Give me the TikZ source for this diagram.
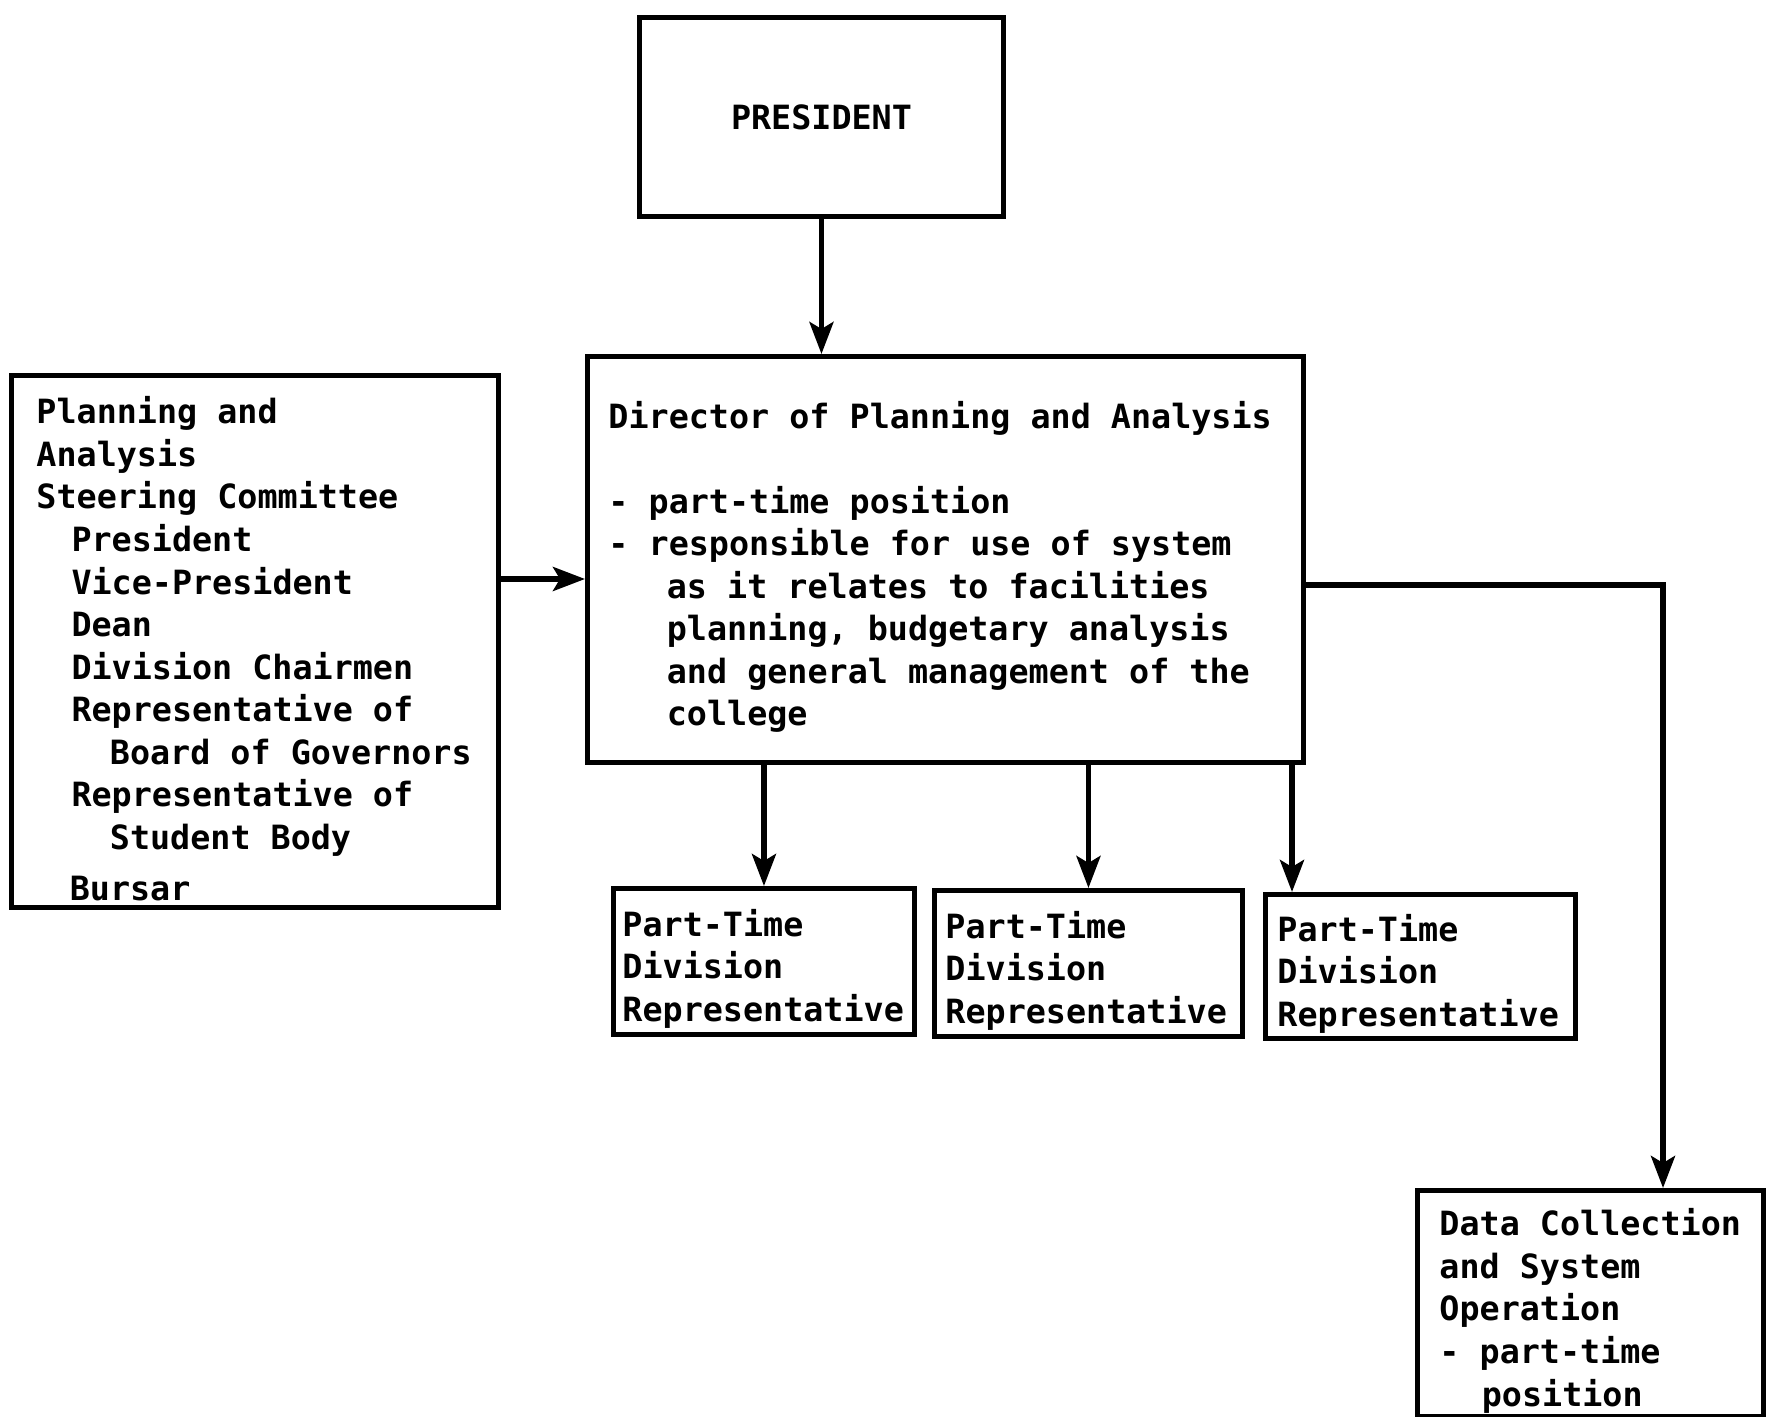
\documentclass[tikz,border=0pt]{standalone}
\usepackage{fontspec}
\setmonofont{DejaVu Sans Mono}
\usepackage{tikz}
\usetikzlibrary{arrows.meta}
\newcommand{\ind}[1]{\hspace*{#1em}}
\tikzset{
  chartbox/.style={draw, line width=1.4pt, anchor=north west, align=left,
    inner ysep=0pt, font={\ttfamily\bfseries\fontsize{9.5}{12.1}\selectfont}},
  listbox/.style={chartbox,
    execute at begin node={\spaceskip=0.602em\xspaceskip=0.602em\rule{0pt}{4.2mm}}},
  link/.style={line width=1.5pt, -{Stealth[length=3.2mm,width=2.4mm,inset=0.7mm]}},
}

\begin{document}
\begin{tikzpicture}[x=0.1mm,y=-0.1mm]
  \useasboundingbox (0,0) rectangle (1774,1417);
  % boxes
  \node[chartbox, align=center, text width=34.4mm, inner xsep=1mm, minimum height=19.9mm] (pres) at (637,15) {PRESIDENT};
  \node[listbox, text width=43.7mm, inner xsep=2.5mm, minimum height=53.2mm] (steer) at (9,373)
    {Planning and\\Analysis\\Steering Committee\\
     \ind{1.05}President\\\ind{1.05}Vice-President\\\ind{1.05}Dean\\\ind{1.05}Division Chairmen\\
     \ind{1.05}Representative of\\\ind{2.2}Board of Governors\\
     \ind{1.05}Representative of\\\ind{2.2}Student Body\\[2.5pt]
     \ind{1}Bursar};
  \node[listbox, text width=67.4mm, inner xsep=2.1mm, minimum height=40.6mm] (dir) at (585,354)
    {Director of Planning and Analysis\\[12.1pt]
     - part-time position\\
     - responsible for use of system\\
     \ind{1.75}as it relates to facilities\\
     \ind{1.75}planning, budgetary analysis\\
     \ind{1.75}and general management of the\\
     \ind{1.75}college};
  \node[listbox, text width=28.3mm, inner xsep=0.9mm, minimum height=14.6mm] (rep1) at (611,886)
    {Part-Time\\Division\\Representative};
  \node[listbox, text width=28.6mm, inner xsep=1.1mm, minimum height=14.6mm] (rep2) at (932,888)
    {Part-Time\\Division\\Representative};
  \node[listbox, text width=28.6mm, inner xsep=1.2mm, minimum height=14.4mm] (rep3) at (1263,892)
    {Part-Time\\Division\\Representative};
  \node[listbox, text width=30.2mm, inner xsep=2.2mm, minimum height=22.6mm] (data) at (1415,1188)
    {Data Collection\\and System\\Operation\\- part-time\\\ind{1.27}position};
  % connectors
  \coordinate (steerout) at (0,579);
  \coordinate (rep3in) at (1292,0);
  \coordinate (dataturn) at (1663,585);
  \draw[link] (pres.south) -- (pres.south |- dir.north);
  \draw[link] (steerout -| steer.east) -- (steerout -| dir.west);
  \draw[link] (dir.south -| rep1.north) -- (rep1.north);
  \draw[link] (dir.south -| rep2.north) -- (rep2.north);
  \draw[link] (rep3in |- dir.south) -- (rep3in |- rep3.north);
  \draw[link] (dataturn -| dir.east) -- (dataturn) -- (dataturn |- data.north);
\end{tikzpicture}
\end{document}
